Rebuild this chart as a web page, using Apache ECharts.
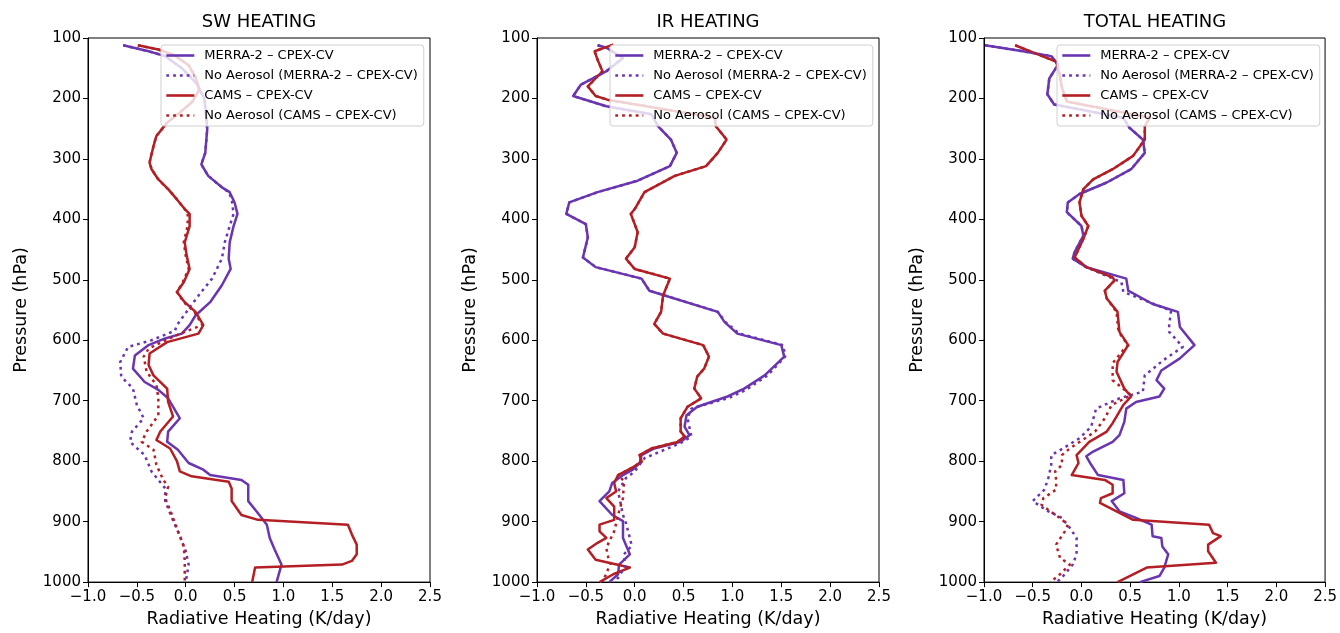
<!DOCTYPE html>
<html>
<head>
<meta charset="utf-8">
<script src="https://cdn.jsdelivr.net/npm/echarts@6/dist/echarts.min.js"></script>
<style>
html,body{margin:0;padding:0;background:#fff;}
#chart{width:1340px;height:633px;}
</style>
</head>
<body>
<div id="chart"></div>
<script>
// ---------- DATA (x = radiative heating K/day, y = pressure hPa) ----------
const PANEL_TITLES = ['SW HEATING', 'IR HEATING', 'TOTAL HEATING'];
const SERIES_NAMES = [
  'MERRA-2 \u2013 CPEX-CV',
  'No Aerosol (MERRA-2 \u2013 CPEX-CV)',
  'CAMS \u2013 CPEX-CV',
  'No Aerosol (CAMS \u2013 CPEX-CV)'
];
const X_LABEL = 'Radiative Heating (K/day)';
const Y_LABEL = 'Pressure (hPa)';

const SW_MERRA = [[-0.64,112],[-0.38,122],[-0.21,130],[-0.04,150],[0.11,175],[0.19,200],[0.21,229],[0.22,251],[0.20,290],[0.16,309],[0.23,328],[0.37,347],[0.45,355],[0.50,372],[0.53,391],[0.49,411],[0.45,438],[0.44,465],[0.46,482],[0.37,509],[0.25,537],[0.10,559],[0.04,575],[-0.04,589],[-0.21,597],[-0.38,608],[-0.52,625],[-0.54,647],[-0.42,669],[-0.28,682],[-0.18,696],[-0.06,729],[-0.18,751],[-0.19,768],[-0.08,781],[0.03,803],[0.18,814],[0.25,823],[0.57,831],[0.64,839],[0.64,866],[0.74,886],[0.83,905],[0.86,927],[0.91,946],[0.98,971],[0.93,1000]];
const SW_MERRA_NOAER = [[-0.64,112],[-0.38,122],[-0.21,130],[-0.04,150],[0.11,175],[0.19,200],[0.21,229],[0.22,251],[0.20,290],[0.16,309],[0.23,328],[0.37,347],[0.44,355],[0.47,366],[0.49,391],[0.45,411],[0.40,438],[0.37,465],[0.27,498],[0.16,520],[0.03,548],[-0.09,575],[-0.11,584],[-0.35,600],[-0.59,611],[-0.67,636],[-0.66,660],[-0.54,680],[-0.50,707],[-0.43,729],[-0.55,751],[-0.57,768],[-0.42,790],[-0.35,817],[-0.21,845],[-0.21,866],[-0.14,894],[-0.05,927],[0.00,949],[0.03,971],[0.00,1000]];
const SW_CAMS = [[-0.49,112],[-0.28,119],[-0.12,128],[0.03,145],[0.10,165],[0.14,185],[0.07,205],[-0.05,222],[-0.19,240],[-0.30,262],[-0.33,279],[-0.37,306],[-0.35,317],[-0.28,334],[-0.18,350],[-0.09,367],[-0.01,383],[0.04,391],[0.04,411],[-0.01,438],[0.01,460],[0.04,482],[-0.02,504],[-0.09,520],[-0.01,537],[0.10,553],[0.18,575],[0.13,589],[-0.19,603],[-0.37,622],[-0.38,641],[-0.33,658],[-0.19,680],[-0.18,702],[-0.13,726],[-0.26,751],[-0.30,765],[-0.16,779],[-0.09,800],[-0.06,817],[0.06,825],[0.44,834],[0.47,845],[0.47,866],[0.57,889],[0.74,897],[1.66,905],[1.70,921],[1.75,938],[1.75,954],[1.70,965],[1.60,971],[0.71,976],[0.68,1000]];
const SW_CAMS_NOAER = [[-0.49,112],[-0.28,119],[-0.12,128],[0.03,145],[0.10,165],[0.14,185],[0.07,205],[-0.05,222],[-0.19,240],[-0.30,262],[-0.33,279],[-0.37,306],[-0.35,317],[-0.28,334],[-0.18,350],[-0.09,367],[-0.01,383],[0.02,391],[0.02,411],[-0.02,438],[0.00,460],[0.03,482],[-0.03,504],[-0.09,520],[-0.02,537],[0.09,553],[0.17,575],[-0.01,586],[-0.21,600],[-0.38,614],[-0.43,627],[-0.40,652],[-0.30,674],[-0.28,696],[-0.28,724],[-0.40,751],[-0.45,768],[-0.33,781],[-0.30,806],[-0.23,831],[-0.18,842],[-0.21,861],[-0.14,889],[-0.08,916],[-0.02,941],[-0.01,965],[-0.01,1000]];

const IR_MERRA = [[-0.38,112],[-0.29,116],[-0.12,133],[-0.29,155],[-0.55,177],[-0.63,196],[-0.29,213],[0.17,226],[0.24,246],[0.37,268],[0.43,290],[0.36,312],[0.03,336],[-0.38,355],[-0.67,372],[-0.70,391],[-0.50,408],[-0.48,430],[-0.53,463],[-0.40,479],[0.07,498],[0.15,518],[0.85,553],[0.92,570],[1.05,589],[1.50,608],[1.53,627],[1.33,658],[1.12,680],[0.95,693],[0.64,710],[0.53,724],[0.51,743],[0.56,757],[0.47,768],[0.20,779],[0.07,790],[0.05,803],[-0.02,814],[-0.12,823],[-0.23,836],[-0.26,850],[-0.36,866],[-0.23,889],[-0.12,899],[-0.12,927],[-0.05,954],[-0.16,971],[-0.17,987],[-0.26,1000]];
const IR_MERRA_NOAER = [[-0.38,112],[-0.29,116],[-0.12,133],[-0.29,155],[-0.55,177],[-0.63,196],[-0.29,213],[0.17,226],[0.24,246],[0.37,268],[0.43,290],[0.36,312],[0.03,336],[-0.38,355],[-0.67,372],[-0.70,391],[-0.50,408],[-0.48,430],[-0.53,463],[-0.40,479],[0.07,498],[0.15,518],[0.85,553],[0.93,570],[1.07,589],[1.52,608],[1.54,627],[1.36,658],[1.14,682],[0.97,695],[0.58,713],[0.54,729],[0.58,759],[0.47,770],[0.10,795],[0.00,817],[-0.09,828],[-0.17,850],[-0.12,889],[-0.09,902],[-0.05,927],[-0.03,940],[-0.11,954],[-0.10,975],[-0.20,1000]];
const IR_CAMS = [[-0.22,111],[-0.41,122],[-0.38,136],[-0.33,155],[-0.48,180],[-0.40,196],[-0.28,202],[0.82,232],[0.83,246],[0.94,268],[0.85,290],[0.73,312],[0.41,328],[0.10,355],[0.00,383],[-0.04,391],[0.03,421],[0.00,446],[-0.09,465],[0.00,482],[0.36,498],[0.29,526],[0.27,553],[0.20,573],[0.29,589],[0.70,608],[0.76,627],[0.71,647],[0.64,660],[0.61,680],[0.68,696],[0.54,710],[0.47,729],[0.47,751],[0.51,759],[0.44,768],[0.17,779],[0.05,790],[0.07,801],[-0.04,812],[-0.17,823],[-0.21,836],[-0.19,850],[-0.29,861],[-0.21,875],[-0.21,897],[-0.36,905],[-0.36,916],[-0.29,927],[-0.38,935],[-0.48,946],[-0.40,963],[-0.05,976],[-0.22,987],[-0.36,1000]];
const IR_CAMS_NOAER = [[-0.22,111],[-0.41,122],[-0.38,136],[-0.33,155],[-0.48,180],[-0.40,196],[-0.28,202],[0.82,232],[0.83,246],[0.94,268],[0.85,290],[0.73,312],[0.41,328],[0.10,355],[0.00,383],[-0.04,391],[0.03,421],[0.00,446],[-0.09,465],[0.00,482],[0.36,498],[0.29,526],[0.27,553],[0.20,573],[0.29,589],[0.70,608],[0.76,627],[0.71,647],[0.64,660],[0.61,680],[0.68,696],[0.54,710],[0.47,729],[0.47,751],[0.51,759],[0.44,768],[0.17,779],[0.05,790],[0.07,801],[-0.04,812],[-0.17,823],[-0.11,833],[-0.12,861],[-0.16,883],[-0.21,916],[-0.29,943],[-0.28,954],[-0.25,970],[-0.31,993],[-0.33,1000]];

const TOT_MERRA = [[-0.99,112],[-0.60,122],[-0.31,130],[-0.24,144],[-0.33,167],[-0.35,193],[-0.28,210],[0.43,232],[0.49,248],[0.63,268],[0.65,290],[0.51,317],[0.26,339],[-0.02,358],[-0.14,372],[-0.15,388],[0.00,411],[0.02,427],[-0.07,454],[-0.09,465],[0.05,479],[0.46,498],[0.48,518],[0.73,540],[0.99,553],[1.01,578],[1.16,608],[1.01,630],[0.82,650],[0.77,666],[0.85,680],[0.80,693],[0.56,702],[0.46,713],[0.44,735],[0.39,757],[0.32,768],[0.12,784],[0.05,792],[0.10,806],[0.17,823],[0.43,831],[0.44,853],[0.31,866],[0.39,883],[0.56,894],[0.72,905],[0.73,924],[0.82,927],[0.83,941],[0.89,954],[0.85,976],[0.80,990],[0.60,1000]];
const TOT_MERRA_NOAER = [[-0.99,112],[-0.60,122],[-0.31,130],[-0.24,144],[-0.33,167],[-0.35,193],[-0.28,210],[0.43,232],[0.49,248],[0.63,268],[0.65,290],[0.51,317],[0.26,339],[-0.02,358],[-0.14,372],[-0.15,388],[0.00,411],[0.02,427],[-0.07,454],[-0.09,465],[0.05,479],[0.41,504],[0.43,520],[0.92,551],[0.90,575],[0.90,586],[1.04,611],[0.84,633],[0.65,658],[0.63,685],[0.39,696],[0.15,713],[0.10,743],[-0.02,762],[-0.19,779],[-0.31,790],[-0.31,806],[-0.34,828],[-0.38,847],[-0.50,866],[-0.34,883],[-0.20,894],[-0.12,910],[-0.05,927],[-0.05,954],[-0.09,971],[-0.17,987],[-0.25,1000]];
const TOT_CAMS = [[-0.68,112],[-0.48,125],[-0.26,139],[-0.22,163],[-0.20,182],[-0.15,205],[0.70,232],[0.65,246],[0.65,268],[0.53,295],[0.32,317],[0.12,334],[0.02,350],[-0.02,372],[0.00,394],[0.07,411],[0.02,432],[-0.07,463],[0.05,479],[0.32,496],[0.34,501],[0.24,518],[0.26,531],[0.37,553],[0.39,586],[0.48,608],[0.37,636],[0.36,652],[0.44,680],[0.51,693],[0.43,707],[0.32,737],[0.26,751],[0.08,768],[-0.05,790],[-0.03,803],[-0.10,823],[0.24,831],[0.32,839],[0.32,853],[0.20,861],[0.19,869],[0.36,883],[0.53,897],[1.31,905],[1.35,919],[1.43,924],[1.30,938],[1.30,949],[1.38,968],[0.67,976],[0.37,1000]];
const TOT_CAMS_NOAER = [[-0.68,112],[-0.48,125],[-0.26,139],[-0.22,163],[-0.20,182],[-0.15,205],[0.70,232],[0.65,246],[0.65,268],[0.53,295],[0.32,317],[0.12,334],[0.02,350],[-0.02,372],[0.00,394],[0.07,411],[0.02,432],[-0.07,463],[0.05,479],[0.32,496],[0.34,501],[0.24,518],[0.26,531],[0.36,553],[0.38,586],[0.48,608],[0.43,616],[0.32,638],[0.32,666],[0.51,691],[0.31,707],[0.24,729],[0.14,751],[-0.12,779],[-0.20,790],[-0.20,806],[-0.27,817],[-0.26,831],[-0.26,847],[-0.39,861],[-0.41,872],[-0.32,883],[-0.22,894],[-0.14,905],[-0.17,916],[-0.26,938],[-0.22,960],[-0.12,971],[-0.22,987],[-0.32,1000]];

const X_MIN = -1.0, X_MAX = 2.5, X_STEP = 0.5;
const P_MIN = 100, P_MAX = 1000, P_STEP = 100;

// ---------- CHART ----------
const PANEL_DATA = [
  [SW_MERRA, SW_MERRA_NOAER, SW_CAMS, SW_CAMS_NOAER],
  [IR_MERRA, IR_MERRA_NOAER, IR_CAMS, IR_CAMS_NOAER],
  [TOT_MERRA, TOT_MERRA_NOAER, TOT_CAMS, TOT_CAMS_NOAER]
];
const PURPLE = '#6a35b0';
const RED = '#b31f24';
const COLORS = [PURPLE, PURPLE, RED, RED];
const DOTTED = [false, true, false, true];
const FONT = 'DejaVu Sans';
const GRID_LEFT = [88, 537, 984];
const GRID_TOP = 38, GRID_W = 342, GRID_H = 546;

const fmtX = v => (v < 0 ? '\u2212' : '') + Math.abs(v).toFixed(1);
const fmtY = v => String(Math.round(v));

const option = {
  animation: false,
  backgroundColor: '#fff',
  textStyle: { fontFamily: FONT },
  title: [], grid: [], xAxis: [], yAxis: [], legend: [], series: []
};

PANEL_TITLES.forEach((t, i) => {
  const L = GRID_LEFT[i];
  option.title.push({
    text: t, left: L + GRID_W / 2, top: 13, textAlign: 'center', padding: 0,
    textStyle: { fontFamily: FONT, fontSize: 18, fontWeight: 'normal', color: '#000' }
  });
  option.grid.push({
    left: L, top: GRID_TOP, width: GRID_W, height: GRID_H,
    show: true, borderColor: '#000', borderWidth: 1, backgroundColor: 'transparent'
  });
  option.xAxis.push({
    type: 'value', gridIndex: i, min: X_MIN, max: X_MAX, interval: X_STEP,
    name: X_LABEL, nameLocation: 'middle', nameGap: 27,
    nameTextStyle: { fontFamily: FONT, fontSize: 17.5, color: '#000' },
    axisLine: { show: true, onZero: false, lineStyle: { color: '#000', width: 1 } },
    axisTick: { show: true, length: 5, lineStyle: { color: '#000' } },
    axisLabel: { formatter: fmtX, fontFamily: FONT, fontSize: 15, color: '#000', margin: 8 },
    splitLine: { show: false }
  });
  option.yAxis.push({
    type: 'value', gridIndex: i, min: P_MIN, max: P_MAX, interval: P_STEP, inverse: true,
    name: Y_LABEL, nameLocation: 'middle', nameGap: 58,
    nameTextStyle: { fontFamily: FONT, fontSize: 17.5, color: '#000' },
    axisLine: { show: true, onZero: false, lineStyle: { color: '#000', width: 1 } },
    axisTick: { show: true, length: 5, lineStyle: { color: '#000' } },
    axisLabel: { formatter: fmtY, fontFamily: FONT, fontSize: 15, color: '#000', margin: 7 },
    splitLine: { show: false }
  });
  option.legend.push({
    orient: 'vertical',
    left: L + 73, top: 45,
    data: SERIES_NAMES,
    itemWidth: 28, itemHeight: 12, itemGap: 7,
    padding: [4, 6, 4, 4],
    backgroundColor: 'rgba(255,255,255,0.8)',
    borderColor: '#d0d0d0', borderWidth: 1, borderRadius: 3,
    itemStyle: { opacity: 0 },
    lineStyle: { width: 2.6 },
    textStyle: { fontFamily: FONT, fontSize: 13, color: '#000', padding: [0, 0, 0, 5] },
    selectedMode: false
  });
  PANEL_DATA[i].forEach((d, k) => {
    option.series.push({
      name: SERIES_NAMES[k], type: 'line',
      xAxisIndex: i, yAxisIndex: i,
      data: d, symbol: 'none', showSymbol: false,
      lineStyle: {
        color: COLORS[k], width: 2.5,
        type: DOTTED[k] ? [2.8, 4] : 'solid', cap: 'butt', join: 'round'
      },
      itemStyle: { color: COLORS[k] },
      z: DOTTED[k] ? 3 : 2
    });
  });
});

const chart = echarts.init(document.getElementById('chart'), null, { renderer: 'canvas' });
chart.setOption(option);
</script>
</body>
</html>
